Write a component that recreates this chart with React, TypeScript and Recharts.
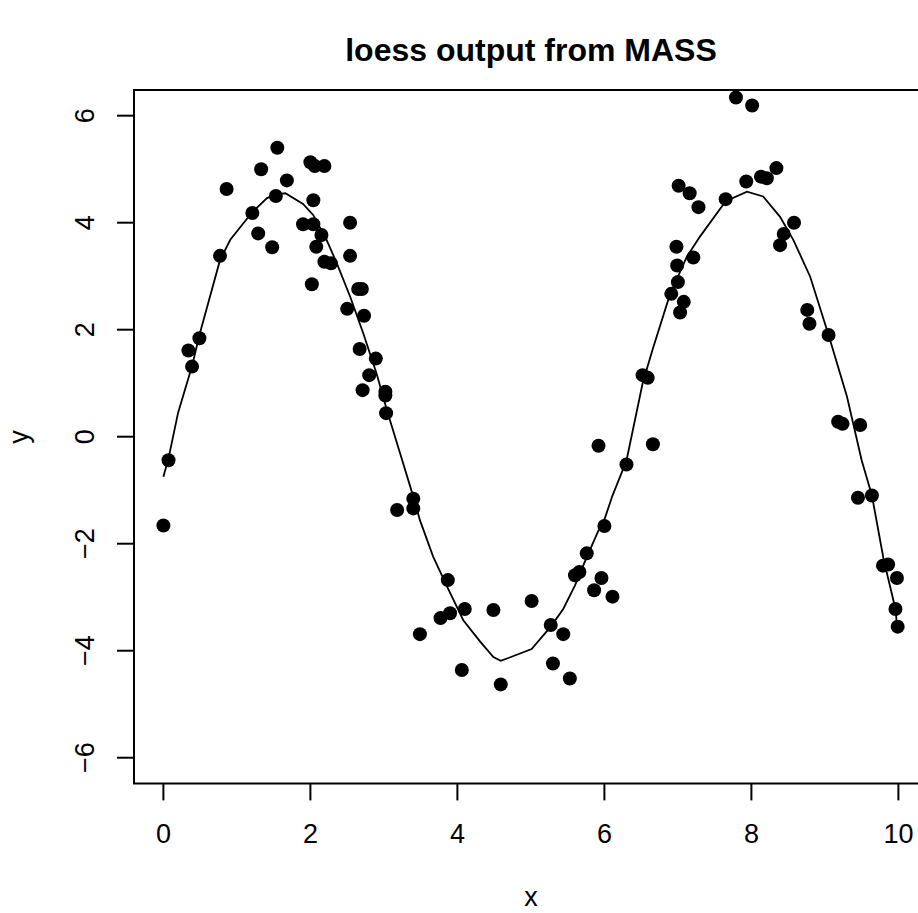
import React from "react";
import {
  ComposedChart,
  Scatter,
  Line,
  XAxis,
  YAxis,
  ReferenceArea,
} from "recharts";

// Observed data points (x, y)
const pointX = [
  0.0, 0.07, 0.34, 0.39, 0.49, 0.77, 0.86, 1.21, 1.29, 1.33,
  1.48, 1.53, 1.55, 1.68, 1.9, 2.0, 2.02, 2.04, 2.04, 2.06,
  2.08, 2.15, 2.19, 2.19, 2.28, 2.5, 2.54, 2.54, 2.65, 2.7,
  2.67, 2.71, 2.73, 2.8, 2.89, 3.02, 3.02, 3.03, 3.18, 3.4,
  3.4, 3.49, 3.77, 3.87, 3.9, 4.06, 4.1, 4.49, 4.59, 5.01,
  5.27, 5.3, 5.44, 5.53, 5.6, 5.66, 5.76, 5.86, 5.92, 5.96,
  6.0, 6.11, 6.3, 6.52, 6.59, 6.66, 6.91, 6.98, 6.99, 7.0,
  7.01, 7.03, 7.08, 7.16, 7.21, 7.28, 7.65, 7.79, 7.93, 8.01,
  8.13, 8.21, 8.34, 8.39, 8.44, 8.58, 8.76, 8.79, 9.05, 9.18,
  9.24, 9.48, 9.45, 9.64, 9.79, 9.86, 9.98, 9.96, 9.99,
];
const pointY = [
  -1.66, -0.44, 1.61, 1.31, 1.84, 3.38, 4.63, 4.18, 3.8, 5.0,
  3.54, 4.5, 5.4, 4.79, 3.97, 5.13, 2.85, 4.42, 3.97, 5.06,
  3.55, 3.77, 5.06, 3.27, 3.24, 2.39, 4.0, 3.38, 2.76, 2.76,
  1.64, 0.87, 2.26, 1.15, 1.46, 0.84, 0.77, 0.44, -1.37, -1.16,
  -1.34, -3.69, -3.39, -2.68, -3.3, -4.36, -3.22, -3.24, -4.63, -3.07,
  -3.52, -4.24, -3.69, -4.52, -2.59, -2.53, -2.18, -2.87, -0.17, -2.64,
  -1.67, -2.99, -0.52, 1.15, 1.1, -0.14, 2.67, 3.55, 3.2, 2.89,
  4.69, 2.32, 2.52, 4.55, 3.35, 4.29, 4.44, 6.34, 4.77, 6.19,
  4.86, 4.83, 5.02, 3.58, 3.79, 4.0, 2.37, 2.11, 1.9, 0.28,
  0.24, 0.22, -1.14, -1.1, -2.41, -2.39, -2.64, -3.22, -3.55,
];

// loess fitted curve
const fitX = [
  0.0, 0.07, 0.2, 0.39, 0.49, 0.77, 0.91, 1.21, 1.41, 1.53,
  1.66, 1.9, 2.04, 2.22, 2.36, 2.54, 2.72, 2.9, 3.04, 3.22,
  3.4, 3.49, 3.67, 3.86, 4.08, 4.31, 4.49, 4.59, 5.01, 5.27,
  5.44, 5.6, 5.76, 5.92, 6.0, 6.11, 6.3, 6.52, 6.66, 6.89,
  7.12, 7.3, 7.65, 7.94, 8.16, 8.39, 8.57, 8.8, 9.05, 9.3,
  9.5, 9.64, 9.8, 9.96, 9.99,
];
const fitY = [
  -0.75, -0.4, 0.45, 1.32, 1.9, 3.3, 3.68, 4.2, 4.46, 4.53,
  4.55, 4.35, 4.14, 3.68, 3.24, 2.62, 1.93, 1.18, 0.5, -0.31,
  -1.12, -1.56, -2.24, -2.8, -3.43, -3.83, -4.12, -4.19, -3.97, -3.55,
  -3.22, -2.78, -2.25, -1.75, -1.55, -1.1, -0.45, 1.0, 1.65, 2.65,
  3.36, 3.74, 4.4, 4.58, 4.49, 4.11, 3.68, 2.99, 1.9, 0.75,
  -0.44, -1.1, -2.3, -3.22, -3.67,
];

const xTicks = [0, 2, 4, 6, 8, 10];
const yTicks = [-6, -4, -2, 0, 2, 4, 6];
const xDomain = [-0.4, 10.4];
const yDomain = [-6.48, 6.48];

const points = pointX.map((x, i) => ({ x, y: pointY[i] }));
const fit = fitX.map((x, i) => ({ x, y: fitY[i] }));

const FONT = '"Liberation Sans", Arial, Helvetica, sans-serif';
const TICK_FS = 27;

const fmt = (v: number) => (v < 0 ? "\u2212" + Math.abs(v) : String(v));

const XTick = (props: any) => {
  const { x, payload } = props;
  return (
    <text
      x={x}
      y={843}
      textAnchor="middle"
      fontFamily={FONT}
      fontSize={TICK_FS}
      fill="#000"
    >
      {fmt(payload.value)}
    </text>
  );
};

const YTick = (props: any) => {
  const { y, payload } = props;
  const bx = 94;
  return (
    <text
      x={bx}
      y={y}
      transform={`rotate(-90, ${bx}, ${y})`}
      textAnchor="middle"
      fontFamily={FONT}
      fontSize={TICK_FS}
      fill="#000"
    >
      {fmt(payload.value)}
    </text>
  );
};

const Dot = (props: any) => {
  const { cx, cy } = props;
  return <circle cx={cx} cy={cy} r={7} fill="#000" />;
};

export default function App() {
  return (
    <div
      style={{
        position: "absolute",
        left: 0,
        top: 0,
        width: 918,
        height: 913,
        overflow: "hidden",
        background: "#fff",
      }}
    >
      <div style={{ position: "relative", width: 940, height: 913 }}>
        <ComposedChart
          width={940}
          height={913}
          margin={{ top: 90, right: 12.2, bottom: 99.6, left: 74 }}
        >
          <XAxis
            dataKey="x"
            type="number"
            domain={xDomain}
            ticks={xTicks}
            interval={0}
            axisLine={false}
            tickSize={17}
            tickLine={{ stroke: "#000", strokeWidth: 2 }}
            tick={<XTick />}
            height={30}
          />
          <YAxis
            dataKey="y"
            type="number"
            domain={yDomain}
            ticks={yTicks}
            interval={0}
            axisLine={false}
            tickSize={17}
            tickLine={{ stroke: "#000", strokeWidth: 2 }}
            tick={<YTick />}
            width={60}
          />
          <ReferenceArea
            x1={xDomain[0]}
            x2={xDomain[1]}
            y1={yDomain[0]}
            y2={yDomain[1]}
            fill="none"
            fillOpacity={0}
            stroke="#000"
            strokeWidth={2}
            ifOverflow="visible"
          />
          <Scatter
            data={points}
            dataKey="y"
            shape={<Dot />}
            isAnimationActive={false}
          />
          <Line
            data={fit}
            dataKey="y"
            type="linear"
            dot={false}
            activeDot={false}
            stroke="#000"
            strokeWidth={1.8}
            isAnimationActive={false}
          />
        </ComposedChart>
        <svg
          width={940}
          height={913}
          style={{ position: "absolute", left: 0, top: 0, pointerEvents: "none" }}
        >
          <text
            x={531}
            y={61}
            textAnchor="middle"
            fontFamily={FONT}
            fontWeight="bold"
            fontSize={32}
            fill="#000"
          >
            loess output from MASS
          </text>
          <text
            x={531}
            y={906}
            textAnchor="middle"
            fontFamily={FONT}
            fontSize={TICK_FS}
            fill="#000"
          >
            x
          </text>
          <text
            x={28}
            y={437}
            transform="rotate(-90, 28, 437)"
            textAnchor="middle"
            fontFamily={FONT}
            fontSize={TICK_FS}
            fill="#000"
          >
            y
          </text>
        </svg>
      </div>
    </div>
  );
}
